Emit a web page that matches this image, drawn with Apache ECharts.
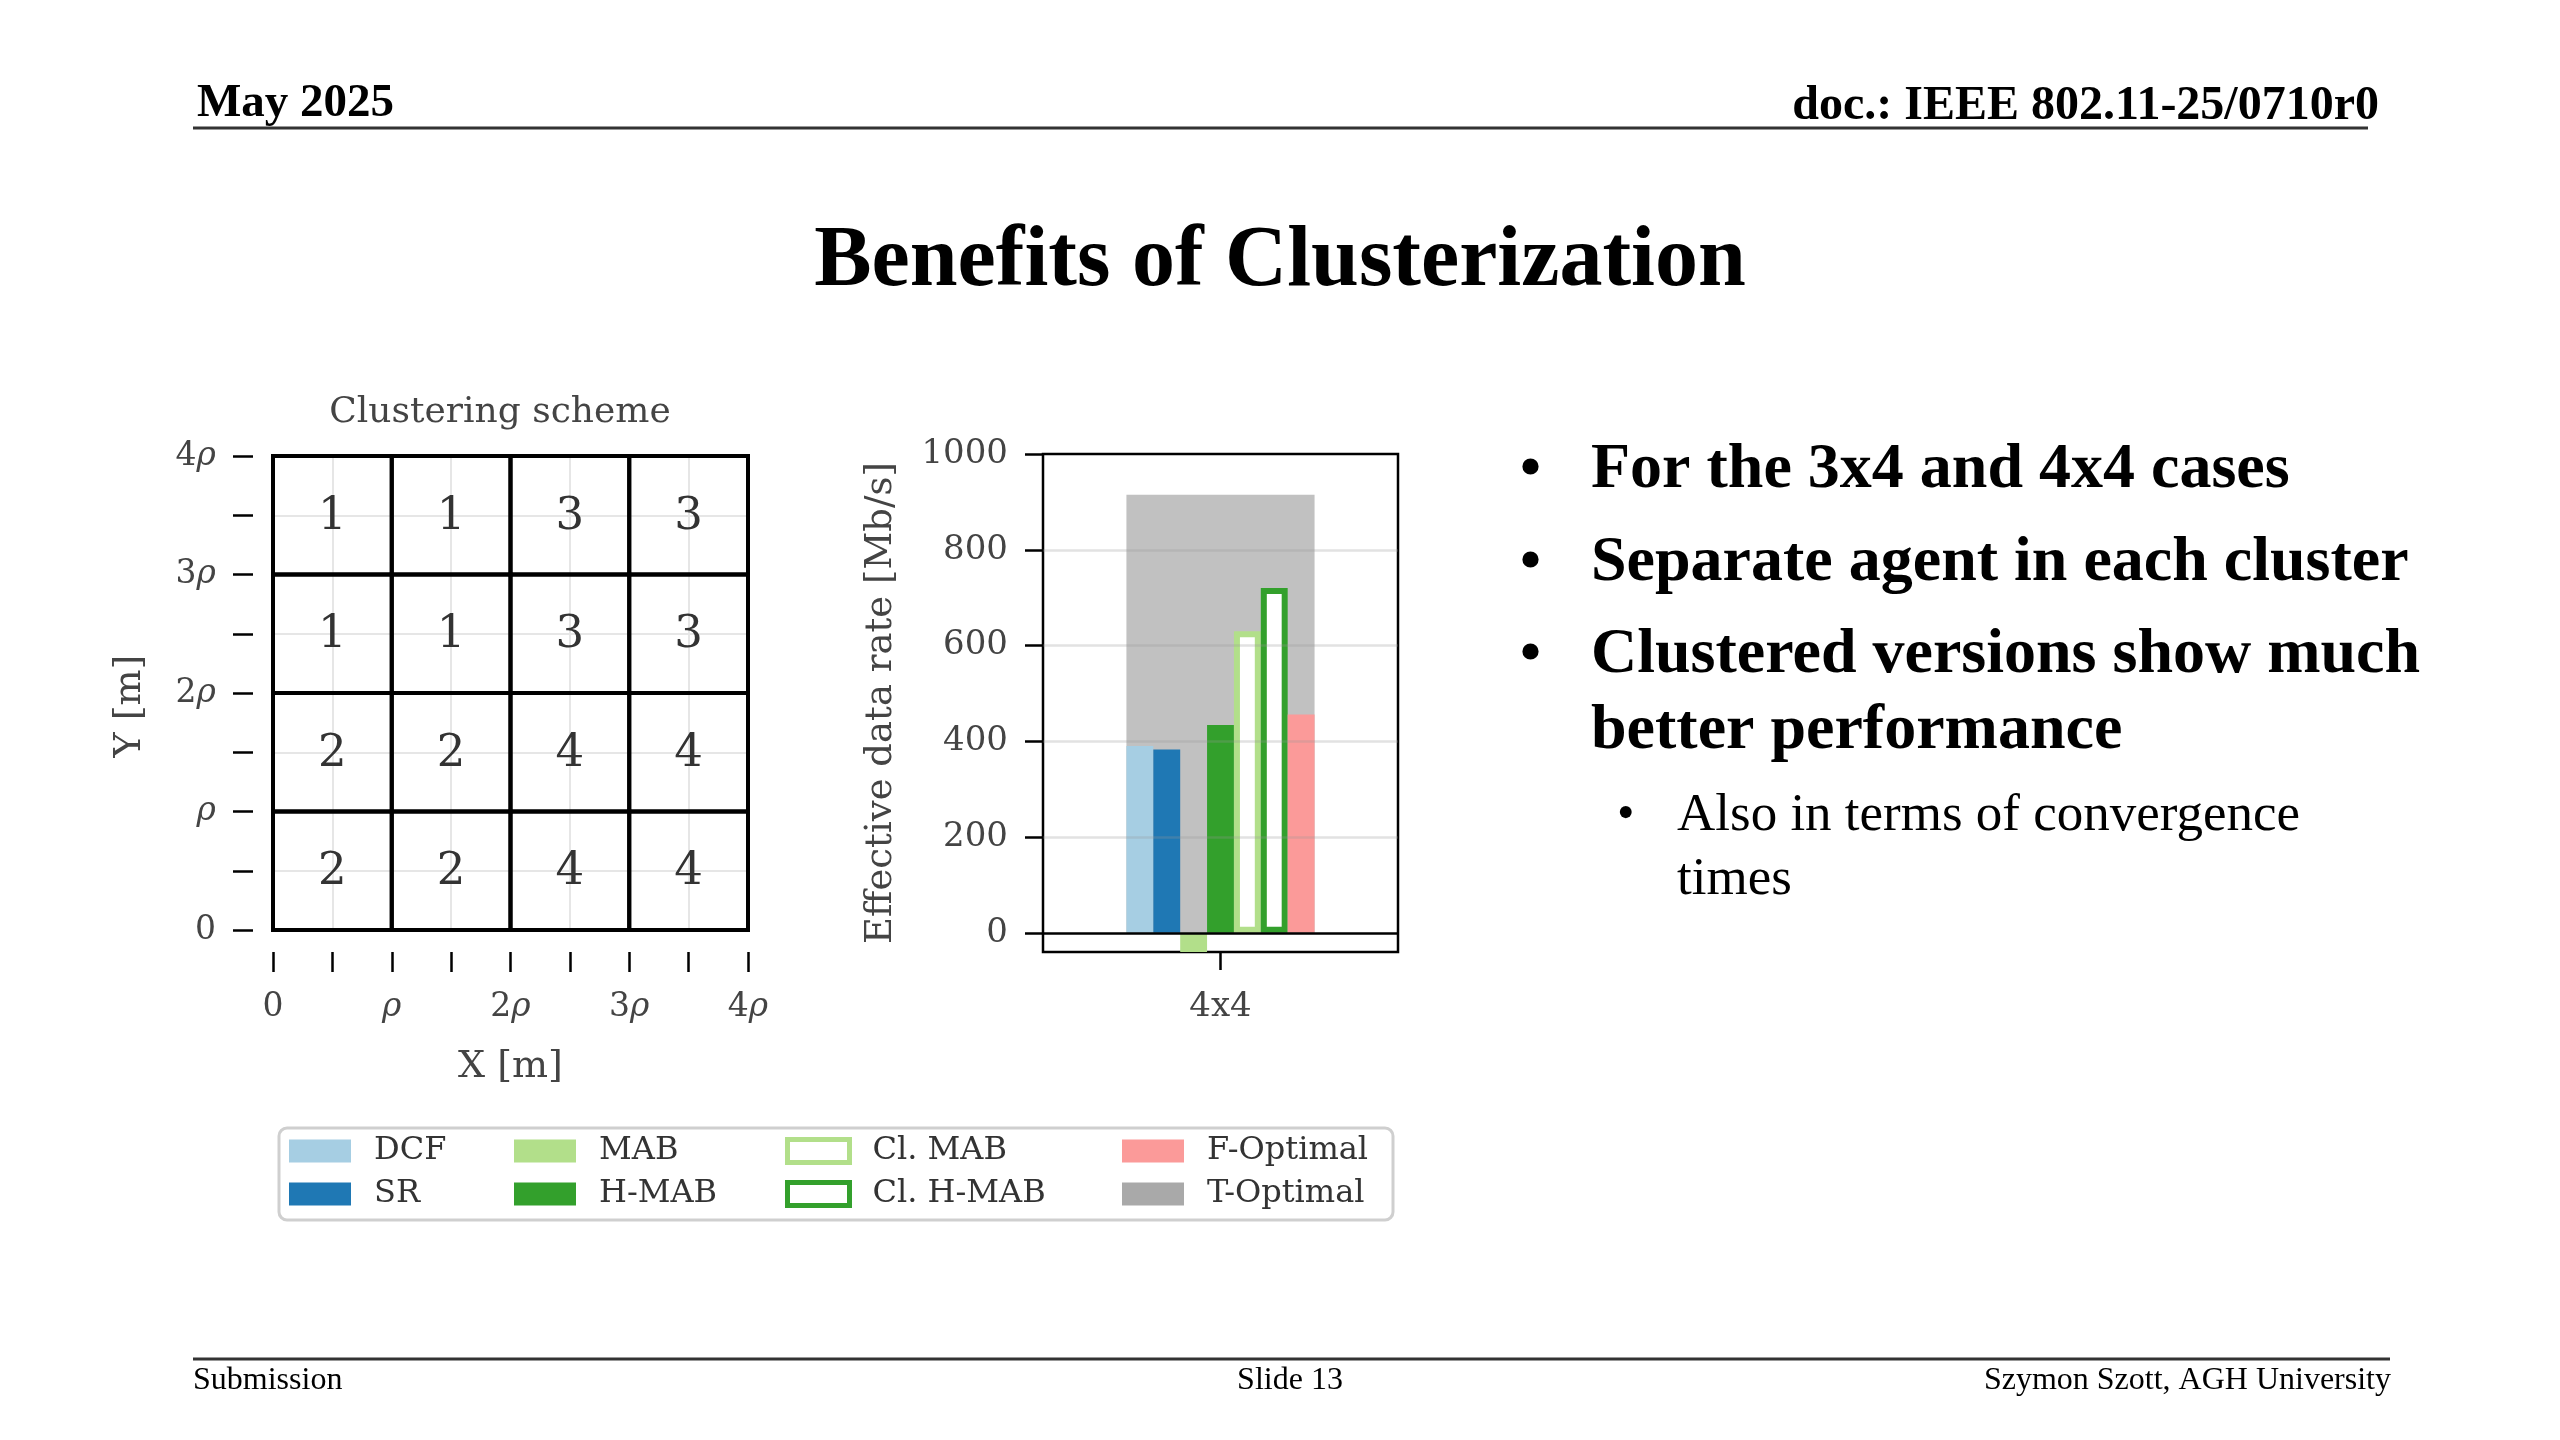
<!DOCTYPE html>
<html><head><meta charset="utf-8">
<script src="https://cdn.jsdelivr.net/npm/echarts@6/dist/echarts.min.js"></script>
<style>html,body{margin:0;padding:0;background:#fff}#c{width:2560px;height:1440px}</style>
</head><body><div id="c"></div>
<script>
// ---------- data ----------
const clusterRows = [   // top row first
  [1, 1, 3, 3],
  [1, 1, 3, 3],
  [2, 2, 4, 4],
  [2, 2, 4, 4]
];
const rhoTickLabels = ['0', '{i|ρ}', '2{i|ρ}', '3{i|ρ}', '4{i|ρ}'];
const barCategories = ['4x4'];
const dcfValues = [390];
const srValues = [383];
const mabValues = [-40];
const hmabValues = [434];
const clMabValues = [630];
const clHmabValues = [720];
const fOptimalValues = [456];
const tOptimalValues = [915];
const rateTickValues = [0, 200, 400, 600, 800, 1000];
const rateGridValues = [200, 400, 600, 800];
const zeroLineValues = [0];
const bulletLines = [
  'For the 3x4 and 4x4 cases',
  'Separate agent in each cluster',
  'Clustered versions show much',
  'better performance'
];
const subBulletLines = ['Also in terms of convergence', 'times'];

// ---------- build ----------
const chartFont = 'DejaVu Serif';
const txtCol = '#444';
const cellData = [];
clusterRows.forEach((row, r) => row.forEach((v, c) => cellData.push([c, clusterRows.length - 1 - r, v])));

const rhoFmt = v => (Math.abs(v - Math.round(v)) < 1e-9 ? rhoTickLabels[Math.round(v)] : '');
const rich = { i: { fontStyle: 'italic', fontFamily: chartFont, fontSize: 33, color: txtCol } };

const barCommon = { type: 'bar', xAxisIndex: 1, yAxisIndex: 1, barWidth: '7.57%', barGap: '0%', z: 3 };

const chart = echarts.init(document.getElementById('c'), null, { renderer: 'canvas' });
const serif = '"Liberation Serif", "Times New Roman", serif';
const bulletY = [470, 563, 655, 731];
const subY = [816, 880];

chart.setOption({
  backgroundColor: '#fff',
  animation: false,
  grid: [
    { left: 273, top: 456, width: 475, height: 474, show: false },
    { left: 1043, top: 454, width: 355, height: 498, show: true, borderColor: '#000', borderWidth: 2.5, backgroundColor: 'transparent' }
  ],
  xAxis: [
    { type: 'value', gridIndex: 0, min: 0, max: 4, interval: 0.5, offset: 22, position: 'bottom',
      name: 'X [m]', nameLocation: 'middle', nameGap: 96,
      nameTextStyle: { fontFamily: chartFont, fontSize: 38, color: txtCol },
      axisLine: { show: false, onZero: false },
      axisTick: { show: true, length: 20, lineStyle: { color: '#000', width: 2.5 } },
      axisLabel: { formatter: rhoFmt, rich: rich, margin: 39, fontFamily: chartFont, fontSize: 33, color: txtCol, showMinLabel: true, showMaxLabel: true },
      splitLine: { show: true, lineStyle: { color: '#e6e6e6', width: 2 } } },
    { type: 'category', gridIndex: 1, data: barCategories,
      axisLine: { show: false, onZero: false },
      axisTick: { show: true, alignWithLabel: true, length: 18, lineStyle: { color: '#000', width: 2.5 } },
      axisLabel: { margin: 38, fontFamily: chartFont, fontSize: 34, color: txtCol },
      splitLine: { show: false } },
    { type: 'category', gridIndex: 1, data: barCategories, show: false, position: 'bottom',
      axisLine: { show: false, onZero: false } }
  ],
  yAxis: [
    { type: 'value', gridIndex: 0, min: 0, max: 4, interval: 0.5, offset: 20, position: 'left',
      name: 'Y [m]', nameLocation: 'middle', nameGap: 104, nameRotate: 90,
      nameTextStyle: { fontFamily: chartFont, fontSize: 38, color: txtCol, padding: [0, 26, 0, 0] },
      axisLine: { show: false, onZero: false },
      axisTick: { show: true, length: 20, lineStyle: { color: '#000', width: 2.5 } },
      axisLabel: { formatter: rhoFmt, rich: rich, margin: 37, fontFamily: chartFont, fontSize: 33, color: txtCol, showMinLabel: true, showMaxLabel: true },
      splitLine: { show: true, lineStyle: { color: '#e6e6e6', width: 2 } } },
    { type: 'value', gridIndex: 1, min: -40, max: 1000,
      name: 'Effective data rate [Mb/s]', nameLocation: 'middle', nameGap: 143, nameRotate: 90,
      nameTextStyle: { fontFamily: chartFont, fontSize: 37, color: txtCol },
      axisLine: { show: false, onZero: false },
      axisTick: { show: true, length: 18, customValues: rateTickValues, lineStyle: { color: '#000', width: 2.5 } },
      axisLabel: { customValues: rateTickValues, formatter: v => String(v), margin: 35, fontFamily: chartFont, fontSize: 34, color: txtCol },
      splitLine: { show: false } }
  ],
  legend: [
    { data: ['DCF', 'SR'] , left: 289 },
    { data: ['MAB', 'H-MAB'], left: 514 },
    { data: [
        { name: 'Cl. MAB', itemStyle: { color: '#fff', borderColor: '#b2df8a', borderWidth: 5 } },
        { name: 'Cl. H-MAB', itemStyle: { color: '#fff', borderColor: '#33a02c', borderWidth: 5 } }
      ], left: 785 },
    { data: ['F-Optimal', { name: 'T-Optimal', itemStyle: { color: '#a9a9a9' } }], left: 1122 }
  ].map(l => Object.assign({
    orient: 'vertical', top: 1135, padding: 0, itemGap: 11, itemWidth: 62, itemHeight: 23,
    icon: 'rect', selectedMode: false,
    textStyle: { fontFamily: chartFont, fontSize: 32, color: '#333', lineHeight: 23, padding: [0, 0, 0, 18] }
  }, l)),
  graphic: [
    { type: 'text', left: 197, top: 80, style: { text: 'May 2025', font: 'bold 47px ' + serif, fill: '#000' } },
    { type: 'text', right: 181, top: 83, style: { text: 'doc.: IEEE 802.11-25/0710r0', font: 'bold 48px ' + serif, fill: '#000' } },
    { type: 'line', shape: { x1: 193, y1: 128, x2: 2368, y2: 128 }, style: { stroke: '#333', lineWidth: 3 } },
    { type: 'text', x: 1280, y: 263, style: { text: 'Benefits of Clusterization', font: 'bold 86px ' + serif, fill: '#000', align: 'center', verticalAlign: 'middle', textAlign: 'center', textVerticalAlign: 'middle' } },
    { type: 'text', x: 500, y: 413, style: { text: 'Clustering scheme', font: '36px "' + chartFont + '"', fill: txtCol, align: 'center', verticalAlign: 'middle', textAlign: 'center', textVerticalAlign: 'middle' } },
    { type: 'rect', shape: { x: 279, y: 1128, width: 1114, height: 92, r: 8 }, style: { fill: 'none', stroke: '#cfcfcf', lineWidth: 3 }, z: -1 },
    // bullets
    ...bulletY.slice(0, 3).map(y => ({ type: 'text', x: 1520, y: y, style: { text: '•', font: 'bold 60px ' + serif, fill: '#000', align: 'left', verticalAlign: 'middle', textAlign: 'left', textVerticalAlign: 'middle' } })),
    ...bulletLines.map((t, i) => ({ type: 'text', x: 1591, y: bulletY[i], style: { text: t, font: 'bold 64px ' + serif, fill: '#000', align: 'left', verticalAlign: 'middle', textAlign: 'left', textVerticalAlign: 'middle' } })),
    { type: 'text', x: 1617, y: subY[0], style: { text: '•', font: '50px ' + serif, fill: '#000', align: 'left', verticalAlign: 'middle', textAlign: 'left', textVerticalAlign: 'middle' } },
    ...subBulletLines.map((t, i) => ({ type: 'text', x: 1677, y: subY[i], style: { text: t, font: '53px ' + serif, fill: '#000', align: 'left', verticalAlign: 'middle', textAlign: 'left', textVerticalAlign: 'middle' } })),
    // footer
    { type: 'line', shape: { x1: 193, y1: 1359, x2: 2390, y2: 1359 }, style: { stroke: '#333', lineWidth: 3 } },
    { type: 'text', x: 193, y: 1381, style: { text: 'Submission', font: '32px ' + serif, fill: '#000', align: 'left', verticalAlign: 'middle', textAlign: 'left', textVerticalAlign: 'middle' } },
    { type: 'text', x: 1290, y: 1381, style: { text: 'Slide 13', font: '32px ' + serif, fill: '#000', align: 'center', verticalAlign: 'middle', textAlign: 'center', textVerticalAlign: 'middle' } },
    { type: 'text', x: 2391, y: 1381, style: { text: 'Szymon Szott, AGH University', font: '32px ' + serif, fill: '#000', align: 'right', verticalAlign: 'middle', textAlign: 'right', textVerticalAlign: 'middle' } }
  ],
  series: [
    { type: 'custom', xAxisIndex: 0, yAxisIndex: 0, z: 5, data: cellData,
      renderItem: (params, api) => {
        const x = api.value(0), y = api.value(1);
        const p0 = api.coord([x, y + 1]);
        const p1 = api.coord([x + 1, y]);
        return { type: 'group', children: [
          { type: 'rect', shape: { x: p0[0], y: p0[1], width: p1[0] - p0[0], height: p1[1] - p0[1] },
            style: { fill: 'none', stroke: '#000', lineWidth: 4 } },
          { type: 'text', style: { text: String(api.value(2)), x: (p0[0] + p1[0]) / 2, y: (p0[1] + p1[1]) / 2 + 2,
            align: 'center', verticalAlign: 'middle', fontFamily: chartFont, fontSize: 45, fill: '#333' } }
        ] };
      } },
    Object.assign({}, barCommon, { name: 'DCF', data: dcfValues, itemStyle: { color: '#a6cee3' },
      markLine: { silent: true, z: 10, symbol: ['none', 'none'], label: { show: false },
        lineStyle: { type: 'solid', color: 'rgba(150,150,150,0.28)', width: 2.5 },
        data: rateGridValues.map(v => ({ yAxis: v })) } }),
    Object.assign({}, barCommon, { name: 'SR', data: srValues, itemStyle: { color: '#1f78b4' },
      markLine: { silent: true, z: 11, symbol: ['none', 'none'], label: { show: false },
        lineStyle: { type: 'solid', color: '#000', width: 2.5 },
        data: zeroLineValues.map(v => ({ yAxis: v })) } }),
    Object.assign({}, barCommon, { name: 'MAB', data: mabValues, itemStyle: { color: '#b2df8a' } }),
    Object.assign({}, barCommon, { name: 'H-MAB', data: hmabValues, itemStyle: { color: '#33a02c' } }),
    Object.assign({}, barCommon, { name: 'Cl. MAB', data: clMabValues, itemStyle: { color: '#fff', borderColor: '#b2df8a', borderWidth: 6 } }),
    Object.assign({}, barCommon, { name: 'Cl. H-MAB', data: clHmabValues, itemStyle: { color: '#fff', borderColor: '#33a02c', borderWidth: 6 } }),
    Object.assign({}, barCommon, { name: 'F-Optimal', data: fOptimalValues, itemStyle: { color: '#fb9a99' } }),
    { type: 'bar', name: 'T-Optimal', xAxisIndex: 2, yAxisIndex: 1, data: tOptimalValues, barWidth: '53%', z: 1,
      itemStyle: { color: 'rgba(169,169,169,0.72)' } }
  ]
});
</script></body></html>
